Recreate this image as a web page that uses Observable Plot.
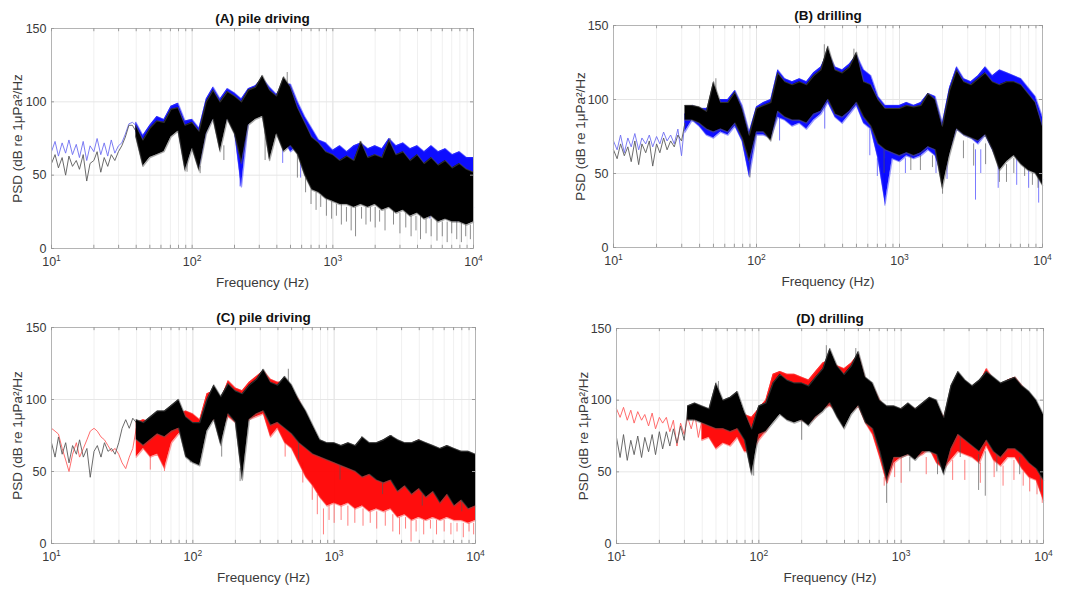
<!DOCTYPE html>
<html><head><meta charset="utf-8">
<script src="https://cdn.jsdelivr.net/npm/d3@7"></script>
<script src="https://cdn.jsdelivr.net/npm/@observablehq/plot@0.6"></script>
<style>
body{margin:0;background:#fff;}
#wrap{position:relative;width:1067px;height:592px;background:#fff;overflow:hidden;font-family:"Liberation Sans",Arial,sans-serif;}
.panel{position:absolute;}
</style></head><body><div id="wrap"></div>
<script>
// Frequency grid (Hz) for the dense envelopes
const freq = [10,11.2,12.6,14.1,15.8,17.8,20,22.4,25.1,28.2,
  31.6,35.5,39.8,44.7,50.1,56.2,63.1,70.8,79.4,89.1,
  100,112,126,141,158,178,200,224,251,282,
  316,355,398,447,501,562,631,708,794,891,
  1000,1122,1259,1413,1585,1778,1995,2239,2512,2818,
  3162,3548,3981,4467,5012,5623,6310,7079,7943,8913,10000];
// Finer grid (Hz) for the single low-frequency traces
const lowFreq = [10,10.6,11.2,11.9,12.6,13.3,14.1,15.0,15.8,16.8,17.8,18.8,20.0,21.1,22.4,23.7,25.1,26.6,28.2,29.9,31.6,33.5,35.5,37.6,39.8];

// Panel A (pile driving): blue and black
const aBlueLow = [66,73,63,72,65,74,64,71,62,73,60,70,66,75,64,72,63,74,65,70,72,78,85,86,84];
const aBlackLow = [58,64,55,62,50,63,56,60,54,64,46,58,60,66,52,62,56,64,60,66,70,76,84,84,80];
const aBlueHi = [73,74,73,75,72,74,76,73,74,72, 74,86,86,77,84,90,88,97,99,87, 88,82,102,110,102,109,106,102,109,111, 116,110,105,112,112,100,90,82,74,72, 67,70,66,70,72,68,70,68,75,70, 72,68,70,66,70,66,68,64,66,62,62];
const aBlueLo = [62,64,63,64,62,58,64,63,62,64, 70,83,80,64,70,72,74,80,82,56, 72,56,80,90,78,90,80,42,86,90, 92,80,80,74,66,70,56,50,46,42, 40,40,38,38,42,38,40,36,40,36, 38,34,36,34,34,32,32,30,30,28,28];
const aBlackHi = [66,64,66,64,67,63,66,65,68,66, 72,84,84,74,82,87,86,95,96,84, 86,80,100,108,100,107,104,100,108,110, 118,108,104,117,110,96,86,76,72,66, 64,60,63,60,73,62,64,62,74,64, 66,60,64,58,62,57,60,55,58,54,52];
const aBlackLo = [56,55,53,49,55,44,56,54,58,60, 70,82,76,56,62,64,66,76,80,53, 68,53,78,88,66,88,78,58,84,88, 90,60,78,66,70,64,50,40,38,34, 32,30,30,28,30,28,30,26,28,24, 26,22,24,20,22,18,20,18,18,16,18];
const aBlueSpikes = [[219,62,42],[440,76,58],[590,60,48],[4900,32,20],[7600,30,18]];
const aBlackSpikes = [[92,62,52],[114,56,51],[168,70,60],[330,80,60],[474,108,120],[560,64,48],[1560,64,73],[2550,70,75],
  [640,48,38],[700,40,30],[760,38,26],[820,36,28],[900,34,22],[980,32,20],[1060,30,22],[1150,30,16],[1250,28,18],[1350,28,12],[1450,28,8],
  [1600,28,20],[1720,28,16],[1850,28,18],[2000,28,14],[2150,26,18],[2350,26,12],[2700,26,16],[3000,24,10],[3300,24,14],[3600,22,8],
  [3900,22,12],[4200,22,6],[4600,20,10],[5000,20,8],[5500,20,5],[6000,18,8],[6500,18,4],[7000,18,10],[7600,18,6],[8200,18,4],[8800,16,8],[9500,16,6]];

// Panel B (drilling): blue and black
const bBlueLow = [72,66,76,64,74,68,77,66,74,70,76,68,75,70,78,72,76,70,80,62,86];
const bBlackLow = [66,60,70,62,68,58,72,56,70,64,72,55,70,64,74,66,72,68,76,72,84];
const bBlueHi = [74,77,74,76,75,78,76,78,80,82, 90,96,94,94,96,100,100,106,96,78, 95,98,100,120,114,112,114,112,118,122, 132,122,120,124,130,120,116,102,96,96, 96,98,96,98,104,102,84,108,122,114, 112,116,122,116,120,118,116,114,108,102,88];
const bBlueLo = [66,64,66,66,68,66,68,70,70,61, 78,86,82,76,74,78,76,82,72,48, 76,76,74,88,86,82,84,80,86,90, 98,88,84,90,96,84,80,60,30,60, 58,62,60,62,66,62,48,66,80,76, 74,70,76,66,56,62,66,58,56,54,46];
const bBlackHi = [70,72,70,72,70,72,72,74,76,80, 96,96,95,92,112,98,98,105,94,76, 94,96,98,118,112,110,112,110,116,120, 136,120,118,122,132,112,110,100,94,94, 94,96,95,96,104,100,82,106,120,112, 110,114,118,112,110,112,112,110,104,98,82];
const bBlackLo = [60,62,60,58,62,55,62,64,66,70, 86,86,84,80,78,80,78,84,74,58, 78,78,72,92,88,86,86,84,90,92, 100,90,88,92,98,88,82,70,66,64, 62,64,62,64,68,66,40,62,80,76, 74,72,76,66,52,58,62,56,52,50,42];
const bBlueSpikes = [[145,88,72],[300,98,80],[620,80,62],[700,60,48],[790,60,28],[1100,60,50],[1800,62,50],[2150,60,46],[3400,66,32],[3700,66,50],[4900,56,40],[6600,60,42],[8000,54,40],[9400,48,30]];
const bBlackSpikes = [[52,96,114],[90,58,47],[298,120,137],[480,125,134],[780,66,50],[1200,62,52],[1400,62,52],[1700,62,54],[2000,44,36],[2800,72,60],[3300,70,55],[4000,70,56],[5000,52,44],[5600,56,44],[6300,60,50],[7500,56,48],[8500,50,42],[9300,50,40]];

// Panel C (pile driving): red and black
const cRedLow = [80,78,76,66,58,50,62,70,60,66,72,78,80,78,74,72,68,64,66,62,56,52,60,66,80];
const cBlackLow = [70,60,74,62,70,56,68,62,72,60,66,46,64,68,60,70,64,66,62,70,80,86,80,87,84];
const cRedHi = [81,79,72,70,72,78,80,78,74,70, 64,66,84,86,84,86,88,92,90,92, 90,86,104,106,100,113,108,106,112,116, 120,114,112,112,106,100,88,74,66,64, 62,60,62,60,62,60,62,60,64,60, 62,62,72,62,62,60,58,58,56,56,52];
const cRedLo = [74,60,50,60,62,68,72,68,64,60, 52,56,60,66,60,62,52,70,76,80, 74,70,84,86,80,88,84,82,86,88, 90,74,80,70,66,56,46,40,32,26, 28,26,28,24,26,22,24,22,24,18, 20,16,18,16,18,16,18,16,16,14,16];
const cBlackHi = [72,68,74,70,72,70,66,72,70,68, 82,87,86,84,88,92,92,96,100,88, 84,84,100,110,102,111,106,104,110,114, 121,112,110,116,110,100,92,82,72,70, 70,68,70,68,74,70,70,72,75,72, 70,70,72,70,68,66,68,66,64,64,62];
const cBlackLo = [56,62,58,55,60,46,60,62,62,62, 70,80,72,68,72,76,74,78,80,60, 56,54,78,86,68,90,84,44,86,90, 92,82,84,80,76,70,66,62,60,58, 56,54,52,50,46,48,44,42,44,36, 40,34,38,32,36,28,34,26,30,24,26];
const cRedSpikes = [[50,62,51],[63,54,50],[450,72,60],[600,56,42],[700,42,30],[760,34,20],[840,24,6],[920,28,16],[1000,28,14],[1120,26,16],[1250,26,12],
  [1400,24,14],[1600,24,12],[1800,22,14],[2000,22,10],[2300,22,12],[2600,20,8],[2900,18,6],[3200,18,10],[3500,16,1],[3800,16,8],[4300,16,6],
  [4800,16,10],[5300,16,6],[6000,16,8],[6700,14,6],[7400,14,8],[8200,14,4],[9000,14,8],[9700,14,6]];
const cBlackSpikes = [[96,62,56],[160,72,60],[216,52,43],[474,110,121],[560,72,58],[1100,54,44],[1560,66,74],[2200,42,34],[2550,70,75],[4200,34,26],[8000,30,22]];

// Panel D (drilling): red and black
const dRedLow = [94,88,95,86,93,84,92,86,90,82,91,80,88,84,88,78,86,68,84,76,88,80,90,74,86];
const dBlackLow = [74,60,76,58,72,62,75,60,74,64,76,62,78,66,78,68,80,70,82,72,94];
const dRedHi = [95,94,93,92,92,90,90,88,86,86, 90,92,88,92,88,90,92,98,90,88, 94,100,118,120,118,118,116,114,120,126, 128,124,122,126,132,114,110,100,92,92, 94,96,94,96,100,96,88,104,114,110, 108,112,122,114,110,114,116,110,104,96,82];
const dRedLo = [88,86,84,82,80,78,78,76,64,74, 78,70,72,74,66,70,68,74,64,64, 72,78,88,92,90,88,86,84,88,94, 96,92,86,92,96,84,76,60,42,56, 60,62,60,62,66,56,52,58,64,62, 60,56,68,58,54,60,60,52,46,44,30];
const dBlackHi = [76,74,76,72,76,74,78,78,80,82, 96,98,96,94,112,100,102,106,92,80, 96,98,112,118,114,112,112,110,116,122, 136,124,118,124,134,116,112,100,96,96, 94,98,94,98,102,100,88,110,120,114, 110,114,120,116,112,114,116,110,106,100,90];
const dBlackLo = [62,58,60,62,64,60,66,68,70,72, 86,86,84,82,80,80,78,80,72,48, 76,78,84,90,86,84,86,82,88,92, 98,88,80,90,96,84,80,64,44,60, 60,62,58,64,64,62,48,66,76,72, 68,64,72,64,60,66,66,62,56,52,44];
const dRedSpikes = [[760,46,40],[800,46,42],[900,56,46],[1000,60,42],[1500,60,48],[2300,58,44],[2800,58,44],[3600,56,42],[4500,58,46],[5200,54,40],[6200,58,44],[7200,50,40],[8000,46,36],[9000,44,34],[9800,34,28]];
const dBlackSpikes = [[52,100,113],[92,60,47],[200,86,72],[298,124,138],[480,124,136],[720,70,60],[790,50,28],[1150,60,50],[1800,60,48],[2600,74,60],[3500,62,37],[3900,64,33],[4700,62,50],[6800,60,48],[9500,48,36]];

// Axes and text
const xTicks = [10, 100, 1000, 10000];
const yTicks = [0, 50, 100, 150];
const yGrid = [50, 100];
const titles = ["(A) pile driving", "(B) drilling", "(C) pile driving", "(D) drilling"];
const xLabel = "Frequency (Hz)";
const yLabel = "PSD (dB re 1μPa²/Hz";

const gridX = [10, 100, 1000].flatMap(d => [1,2,3,4,5,6,7,8,9].map(k => d * k)).concat([10000]);

const BLUE = {fill: "#0000ff", line: "#6e6ef2", edge: "#3a3aff", op: 0.95};
const BLACK = {fill: "#000000", line: "#5a5a5a", edge: "#555555", op: 1};
const RED = {fill: "#ff0000", line: "#ff5c5c", edge: "#ff4040", op: 0.95};

const panels = [
  {title: titles[0], left: 0, top: 0, width: 530, height: 295, m: [28, 57, 47, 51], ydx: -34,
   series: [{low: aBlueLow, hi: aBlueHi, lo: aBlueLo, spikes: aBlueSpikes, dense: 12, ...BLUE},
            {low: aBlackLow, hi: aBlackHi, lo: aBlackLo, spikes: aBlackSpikes, dense: 12, ...BLACK}]},
  {title: titles[1], left: 530, top: 0, width: 537, height: 295, m: [25, 25, 48, 83], ydx: -33,
   series: [{low: bBlueLow, hi: bBlueHi, lo: bBlueLo, spikes: bBlueSpikes, dense: 10, ...BLUE},
            {low: bBlackLow, hi: bBlackHi, lo: bBlackLo, spikes: bBlackSpikes, dense: 10, ...BLACK}]},
  {title: titles[2], left: 0, top: 295, width: 530, height: 297, m: [32, 55, 49, 51], ydx: -34,
   series: [{low: cRedLow, hi: cRedHi, lo: cRedLo, spikes: cRedSpikes, dense: 12, ...RED},
            {low: cBlackLow, hi: cBlackHi, lo: cBlackLo, spikes: cBlackSpikes, dense: 12, ...BLACK}]},
  {title: titles[3], left: 530, top: 295, width: 537, height: 297, m: [33, 24, 49, 86], ydx: -33,
   series: [{low: dRedLow, hi: dRedHi, lo: dRedLo, spikes: dRedSpikes, dense: 12, ...RED},
            {low: dBlackLow, hi: dBlackHi, lo: dBlackLo, spikes: dBlackSpikes, dense: 10, ...BLACK}]}
];

const wrap = document.getElementById("wrap");
for (const p of panels) {
  const marks = [
    Plot.ruleX(gridX, {stroke: "#f0f0f0", strokeWidth: 1}),
    Plot.ruleX(xTicks, {stroke: "#e4e4e4", strokeWidth: 1}),
    Plot.ruleY(yGrid, {stroke: "#e6e6e6", strokeWidth: 1})
  ];
  for (const s of p.series) {
    const rows = freq.map((f, i) => ({f, hi: s.hi[i], lo: s.lo[i]})).slice(s.dense);
    const lowRows = s.low.map((v, i) => ({f: lowFreq[i], v})).filter(d => d.f <= freq[s.dense] + 0.01);
    marks.push(
      Plot.line(lowRows, {x: "f", y: "v", stroke: s.line, strokeWidth: 0.9}),
      Plot.ruleX(s.spikes, {x: d => d[0], y1: d => d[1], y2: d => d[2], stroke: s.edge, strokeWidth: 0.9, strokeOpacity: 0.75}),
      Plot.areaY(rows, {x: "f", y1: "lo", y2: "hi", fill: s.fill, fillOpacity: s.op}),
      Plot.line(rows, {x: "f", y: "hi", stroke: s.edge, strokeWidth: 1.2, strokeOpacity: 0.55}),
      Plot.line(rows, {x: "f", y: "lo", stroke: s.edge, strokeWidth: 1.4, strokeOpacity: 0.5})
    );
  }
  marks.push(
    Plot.frame({stroke: "#b4b4b4"}),
    Plot.ruleX(gridX, {y1: 0, y2: 2.2, stroke: "#9a9a9a"}),
    Plot.ruleX(gridX, {y1: 147.8, y2: 150, stroke: "#9a9a9a"}),
    Plot.ruleY(yTicks, {x1: 10, x2: 10.5, stroke: "#9a9a9a"}),
    Plot.ruleY(yTicks, {x1: 9520, x2: 10000, stroke: "#9a9a9a"}),
    Plot.axisX(xTicks, {tickSize: 0, tickPadding: 9, fontSize: 12.5, label: null,
      tickFormat: d => String(Math.round(Math.log10(d)))}),
    Plot.axisY(yTicks, {tickSize: 0, tickPadding: 5, fontSize: 12.5, label: null}),
    Plot.text([p.title], {text: d => d, frameAnchor: "top", lineAnchor: "middle", dy: -10, fontWeight: "bold", fontSize: 13.5, fill: "#111"}),
    Plot.text([xLabel], {text: d => d, frameAnchor: "bottom", lineAnchor: "middle", dy: 34, fontSize: 13.5, fill: "#3a3a3a"}),
    Plot.text([yLabel], {text: d => d, frameAnchor: "left", textAnchor: "middle", lineAnchor: "middle", dx: p.ydx, rotate: -90, fontSize: 13.5, fill: "#3a3a3a"})
  );
  const svg = Plot.plot({
    width: p.width, height: p.height,
    marginTop: p.m[0], marginRight: p.m[1], marginBottom: p.m[2], marginLeft: p.m[3],
    x: {type: "log", domain: [10, 10000]},
    y: {domain: [0, 150]},
    style: {fontFamily: "'Liberation Sans', Arial, sans-serif", color: "#3a3a3a", background: "transparent", overflow: "visible"},
    marks
  });
  svg.querySelectorAll('g[aria-label="x-axis tick label"] text').forEach(t => {
    const k = t.textContent;
    t.textContent = "10";
    const ts = document.createElementNS("http://www.w3.org/2000/svg", "tspan");
    ts.setAttribute("dy", "-5");
    ts.setAttribute("font-size", "8.5");
    ts.textContent = k;
    t.appendChild(ts);
  });
  const div = document.createElement("div");
  div.className = "panel";
  div.style.left = p.left + "px";
  div.style.top = p.top + "px";
  div.appendChild(svg);
  wrap.appendChild(div);
}
</script>
</body></html>
